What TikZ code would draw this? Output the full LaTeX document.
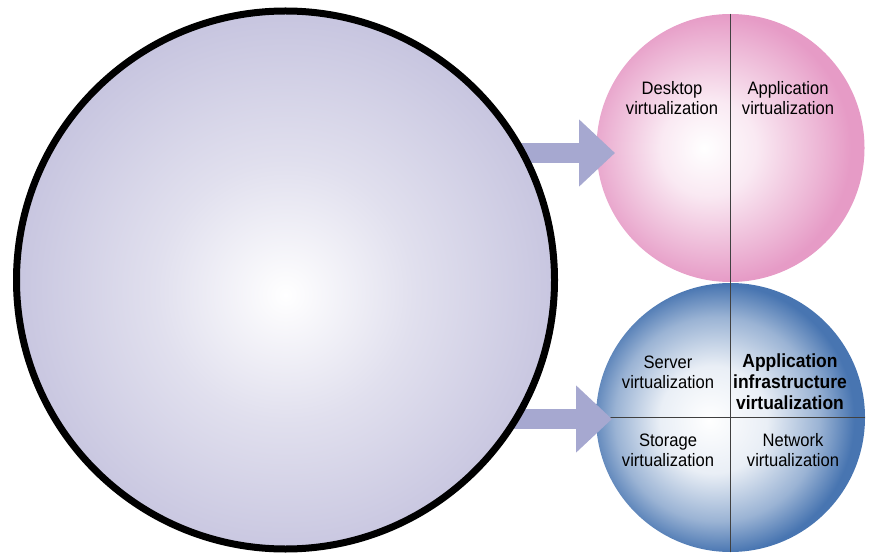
\documentclass[tikz,border=0pt]{standalone}
\usepackage{fontspec}
\setmainfont{Liberation Sans}[FakeStretch=0.92]
\usetikzlibrary{arrows.meta}
\definecolor{bigedge}{RGB}{200,198,224}
\definecolor{pinkedge}{RGB}{230,155,198}
\definecolor{blueedge}{RGB}{72,117,177}
\definecolor{arrowcol}{RGB}{166,168,208}
\pgfdeclareradialshading{bigball}{\pgfpoint{0bp}{-1.4bp}}{color(0bp)=(white); color(12bp)=(bigedge!55); color(25bp)=(bigedge); color(50bp)=(bigedge)}
\pgfdeclareradialshading{pinkball}{\pgfpoint{-5bp}{0bp}}{color(0bp)=(white); color(9bp)=(pinkedge!22); color(20bp)=(pinkedge!75); color(25bp)=(pinkedge); color(50bp)=(pinkedge)}
\pgfdeclareradialshading{blueball}{\pgfpoint{-4bp}{-0.5bp}}{color(0bp)=(white); color(10bp)=(blueedge!12); color(19bp)=(blueedge!55); color(25bp)=(blueedge); color(50bp)=(blueedge)}
\begin{document}
\begin{tikzpicture}[x=1pt,y=-1pt,ball/.style={circle,inner sep=0pt},vtext/.style={align=center,font=\fontsize{18}{20}\selectfont},feed/.style={draw=arrowcol,line width=20pt,-{Triangle[length=36pt,width=65pt]}},divider/.style={draw=black!75,line width=1.5pt}]
\useasboundingbox (0,0) rectangle (872,553);
%\node[font=\Large] at (436,10) {Virtualization};
\coordinate (hub) at (285.5,280);
\node[ball,shading=pinkball,minimum size=268pt] (pink) at (730.5,148) {};
\node[ball,shading=blueball,minimum size=269pt] (blue) at (730.5,417.5) {};
\draw[divider] (pink.north) -- (blue.south); \draw[divider] (blue.west) -- (blue.east);
\coordinate (tipA) at (615,153); \coordinate (tipB) at (612,419);
\draw[feed] (hub |- tipA) -- (tipA); \draw[feed] (hub |- tipB) -- (tipB);
\node[ball,shading=bigball,draw,line width=7pt,minimum size=538pt] (big) at (hub) {};
\node[vtext] (desk) at (672,98) {Desktop\\virtualization};
\node[vtext] (app) at (788,98) {Application\\virtualization};
\node[vtext] (server) at (668,372) {Server\\virtualization};
\node[vtext,font=\bfseries\fontsize{19}{21}\selectfont] (infra) at (790,382) {Application\\infrastructure\\virtualization};
\node[vtext] (storage) at (668,450) {Storage\\virtualization};
\node[vtext] (network) at (793,450) {Network\\virtualization};
\end{tikzpicture}
\end{document}
